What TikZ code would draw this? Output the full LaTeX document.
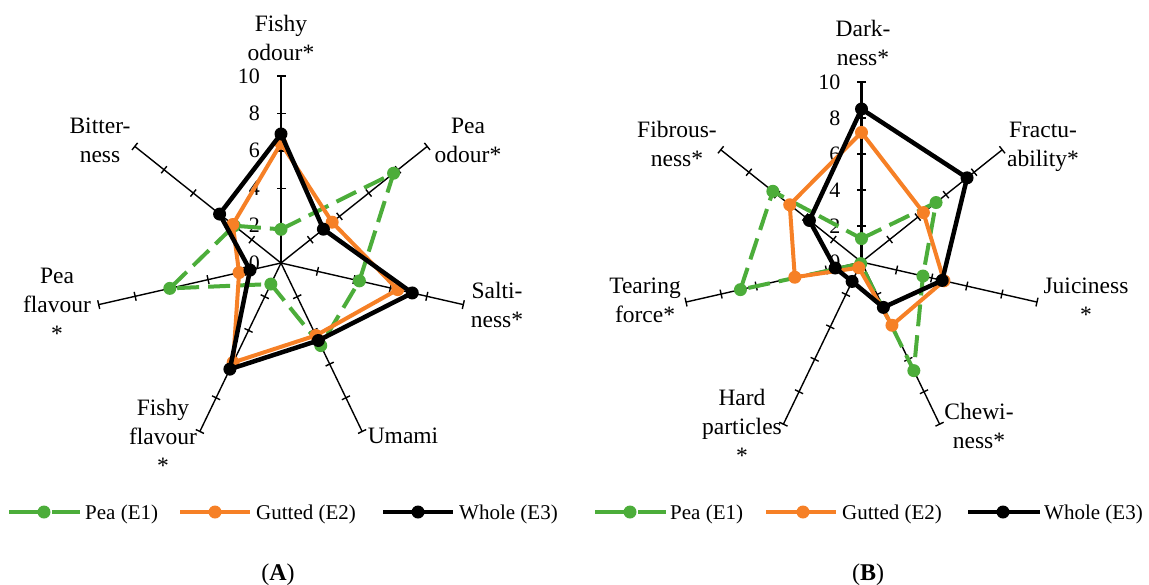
\documentclass[tikz,border=0pt]{standalone}
\usepackage{fontspec}
\setmainfont{Liberation Serif}
\usetikzlibrary{calc}
\definecolor{peagreen}{RGB}{76,173,58}
\definecolor{gutorange}{RGB}{246,128,38}
\newcommand{\mlab}[1]{\begin{tabular}[t]{@{}c@{}}#1\end{tabular}}
\tikzset{
  spoke/.style={line width=1.4pt, black},
  valspoke/.style={line width=2.4pt, black},
  tickmk/.style={line width=1.4pt, black},
  catlab/.style={font=\fontsize{23.5}{29}\selectfont, inner sep=0pt, anchor=base},
  vallab/.style={font=\fontsize{22}{24}\selectfont, inner sep=0pt, anchor=east},
  legtext/.style={font=\fontsize{21}{24}\selectfont, inner sep=0pt, anchor=base west},
  panellab/.style={font=\fontsize{24}{26}\selectfont, inner sep=0pt, anchor=base},
  pealine/.style={line width=4pt, peagreen, dash pattern=on 22pt off 9pt, line join=round},
  gutline/.style={line width=4pt, gutorange, line join=round},
  wholeline/.style={line width=4.5pt, black, line join=round},
  peadot/.style={circle, fill=peagreen, inner sep=0pt, minimum size=13pt},
  gutdot/.style={circle, fill=gutorange, inner sep=0pt, minimum size=13pt},
  wholedot/.style={circle, fill=black, inner sep=0pt, minimum size=13pt},
}
\begin{document}
\begin{tikzpicture}[x=1pt,y=1pt]
\useasboundingbox (0,-584) rectangle (1149,0);
% ================= Chart A =================
\begin{scope}[shift={(281,-263)}]
  \coordinate (Ac) at (0,0);
  \foreach \k in {0,...,6}{\coordinate (Ae\k) at ({90-\k*360/7}:187);}
  \foreach \k in {1,...,6}{\draw[spoke] (Ac) -- (Ae\k);}
  \draw[valspoke] (Ac) -- (Ae0);
  \foreach \k in {0,...,6}{
    \begin{scope}[rotate={90-\k*360/7}]
      \foreach \t in {2,4,6,8,10}{\draw[tickmk] ({\t*18.7},-4.5) -- ({\t*18.7},4.5);}
    \end{scope}
  }
  \foreach \t in {0,2,...,10}{\node[vallab] (Av\t) at (-21,{\t*18.7}) {\t};}
  % series
  \foreach \v [count=\i from 0] in {1.8,7.7,4.3,4.9,1.25,6.1,3.2}{\coordinate (Ag\i) at ({90-\i*360/7}:{\v*18.7});}
  \foreach \v [count=\i from 0] in {6.4,3.5,6.4,4.3,5.9,2.3,3.3}{\coordinate (Ao\i) at ({90-\i*360/7}:{\v*18.7});}
  \foreach \v [count=\i from 0] in {6.9,2.9,7.2,4.6,6.3,1.7,4.2}{\coordinate (Ab\i) at ({90-\i*360/7}:{\v*18.7});}
  \draw[pealine] (Ag0) -- (Ag1) -- (Ag2) -- (Ag3) -- (Ag4) -- (Ag5) -- (Ag6) -- cycle;
  \foreach \i in {0,...,6}{\node[peadot] (Agd\i) at (Ag\i) {};}
  \draw[gutline] (Ao0) -- (Ao1) -- (Ao2) -- (Ao3) -- (Ao4) -- (Ao5) -- (Ao6) -- cycle;
  \foreach \i in {0,...,6}{\node[gutdot] (Aod\i) at (Ao\i) {};}
  \draw[wholeline] (Ab0) -- (Ab1) -- (Ab2) -- (Ab3) -- (Ab4) -- (Ab5) -- (Ab6) -- cycle;
  \foreach \i in {0,...,6}{\node[wholedot] (Abd\i) at (Ab\i) {};}
\end{scope}
\node[catlab] (LA0) at (281,-31) {\mlab{Fishy\\odour*}};
\node[catlab] (LA1) at (468,-133) {\mlab{Pea\\odour*}};
\node[catlab] (LA2) at (497,-298) {\mlab{Salti-\\ness*}};
\node[catlab] (LA3) at (403,-443) {\mlab{Umami}};
\node[catlab] (LA4) at (163,-415) {\mlab{Fishy\\flavour\\{}*}};
\node[catlab] (LA5) at (57,-283) {\mlab{Pea\\flavour\\{}*}};
\node[catlab] (LA6) at (100,-133) {\mlab{Bitter-\\ness}};
% ================= Chart B =================
\begin{scope}[shift={(861.5,-262)}]
  \coordinate (Bc) at (0,0);
  \foreach \k in {0,...,6}{\coordinate (Be\k) at ({90-\k*360/7}:180);}
  \foreach \k in {1,...,6}{\draw[spoke] (Bc) -- (Be\k);}
  \draw[valspoke] (Bc) -- (Be0);
  \foreach \k in {0,...,6}{
    \begin{scope}[rotate={90-\k*360/7}]
      \foreach \t in {2,4,6,8,10}{\draw[tickmk] ({\t*18},-4.5) -- ({\t*18},4.5);}
    \end{scope}
  }
  \foreach \t in {0,2,...,10}{\node[vallab] (Bv\t) at (-21,{\t*18}) {\t};}
  \foreach \v [count=\i from 0] in {1.3,5.3,3.5,6.7,0.1,6.9,6.3}{\coordinate (Bg\i) at ({90-\i*360/7}:{\v*18});}
  \foreach \v [count=\i from 0] in {7.2,4.4,4.7,3.9,0.35,3.8,5.1}{\coordinate (Bo\i) at ({90-\i*360/7}:{\v*18});}
  \foreach \v [count=\i from 0] in {8.5,7.5,4.6,2.8,1.2,1.5,3.7}{\coordinate (Bb\i) at ({90-\i*360/7}:{\v*18});}
  \draw[pealine] (Bg0) -- (Bg1) -- (Bg2) -- (Bg3) -- (Bg4) -- (Bg5) -- (Bg6) -- cycle;
  \foreach \i in {0,...,6}{\node[peadot] (Bgd\i) at (Bg\i) {};}
  \draw[gutline] (Bo0) -- (Bo1) -- (Bo2) -- (Bo3) -- (Bo4) -- (Bo5) -- (Bo6) -- cycle;
  \foreach \i in {0,...,6}{\node[gutdot] (Bod\i) at (Bo\i) {};}
  \draw[wholeline] (Bb0) -- (Bb1) -- (Bb2) -- (Bb3) -- (Bb4) -- (Bb5) -- (Bb6) -- cycle;
  \foreach \i in {0,...,6}{\node[wholedot] (Bbd\i) at (Bb\i) {};}
\end{scope}
\node[catlab] (LB0) at (863,-36) {\mlab{Dark-\\ness*}};
\node[catlab] (LB1) at (1043,-137) {\mlab{Fractu-\\ability*}};
\node[catlab] (LB2) at (1086,-293) {\mlab{Juiciness\\{}*}};
\node[catlab] (LB3) at (979,-419) {\mlab{Chewi-\\ness*}};
\node[catlab] (LB4) at (742,-405) {\mlab{Hard\\particles\\{}*}};
\node[catlab] (LB5) at (645,-293) {\mlab{Tearing\\force*}};
\node[catlab] (LB6) at (677,-137) {\mlab{Fibrous-\\ness*}};
% ================= Legends =================
\coordinate (LgA1a) at (9,-512);   \coordinate (LgA1b) at (80,-512);
\coordinate (LgA2a) at (180,-512); \coordinate (LgA2b) at (250,-512);
\coordinate (LgA3a) at (383,-512); \coordinate (LgA3b) at (453,-512);
\draw[line width=4pt, peagreen, dash pattern=on 35pt off 8pt] (LgA1a) -- (LgA1b);
\node[peadot] (LgA1d) at (44,-512) {};
\node[legtext] (LgA1t) at (85,-519) {Pea (E1)};
\draw[line width=4pt, gutorange] (LgA2a) -- (LgA2b);
\node[gutdot] (LgA2d) at (215,-512) {};
\node[legtext] (LgA2t) at (256,-519) {Gutted (E2)};
\draw[line width=4.5pt, black] (LgA3a) -- (LgA3b);
\node[wholedot] (LgA3d) at (418,-512) {};
\node[legtext] (LgA3t) at (459,-519) {Whole (E3)};
\coordinate (LgB1a) at (595,-512); \coordinate (LgB1b) at (666,-512);
\coordinate (LgB2a) at (766,-512); \coordinate (LgB2b) at (836,-512);
\coordinate (LgB3a) at (968,-512); \coordinate (LgB3b) at (1040,-512);
\draw[line width=4pt, peagreen, dash pattern=on 35pt off 8pt] (LgB1a) -- (LgB1b);
\node[peadot] (LgB1d) at (630,-512) {};
\node[legtext] (LgB1t) at (670,-519) {Pea (E1)};
\draw[line width=4pt, gutorange] (LgB2a) -- (LgB2b);
\node[gutdot] (LgB2d) at (803,-512) {};
\node[legtext] (LgB2t) at (842,-519) {Gutted (E2)};
\draw[line width=4.5pt, black] (LgB3a) -- (LgB3b);
\node[wholedot] (LgB3d) at (1003,-512) {};
\node[legtext] (LgB3t) at (1044,-519) {Whole (E3)};
% panel labels
\node[panellab] (PA) at (278,-580) {(\textbf{A})};
\node[panellab] (PB) at (868,-580) {(\textbf{B})};
\end{tikzpicture}
\end{document}
